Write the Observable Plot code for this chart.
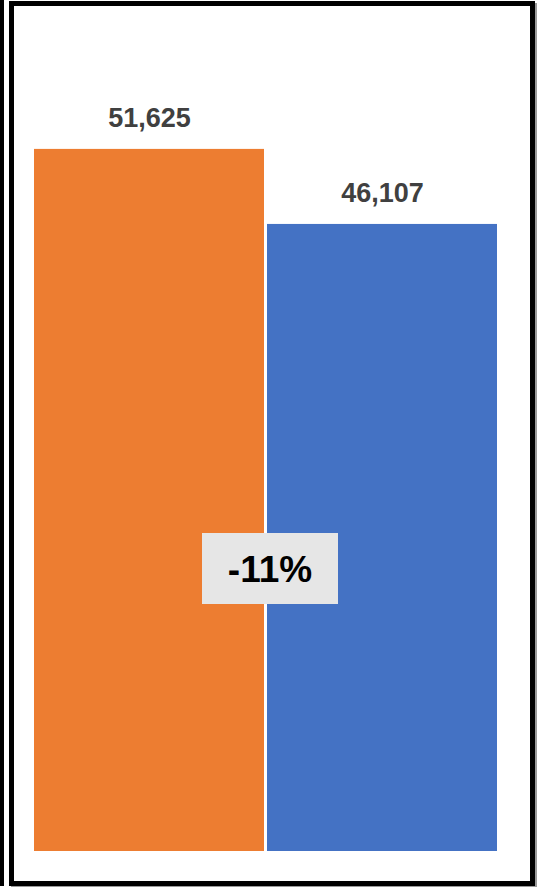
<!DOCTYPE html>
<html>
<head>
<meta charset="utf-8">
<script src="https://cdn.jsdelivr.net/npm/d3@7"></script>
<script src="https://cdn.jsdelivr.net/npm/@observablehq/plot@0.6"></script>
<style>
  html, body { margin: 0; padding: 0; background: #fff; }
  #wrap { position: relative; width: 538px; height: 887px; overflow: hidden; }
  #wrap svg { position: absolute; left: 0; top: 0; }
  .frame { position: absolute; left: 9px; top: 1px; width: 526px; height: 885px; box-sizing: border-box; border: 5px solid #000; box-shadow: 2px 2px 0 #9a9a9a; pointer-events: none; }
  .outer { position: absolute; left: 0; top: 0; width: 4px; height: 886px; background: #000; pointer-events: none; }
</style>
</head>
<body>
<div id="wrap"></div>
<script>
// Data
const categories = ["Before", "After"];
const values = [51625, 46107];
const colors = ["#ED7D31", "#4472C4"];

const data = categories.map((c, i) => ({category: c, value: values[i], color: colors[i]}));
const change = (values[1] - values[0]) / values[0];
const changeLabel = d3.format(".0%")(change).replace("−", "-");

const boxSymbol = {
  draw(context) {
    context.moveTo(-68, -35.5);
    context.lineTo(68, -35.5);
    context.lineTo(68, 35.5);
    context.lineTo(-68, 35.5);
    context.closePath();
  }
};

const annotation = [{y: 20800, label: changeLabel}];

// Re-center an annotation near the boundary between the two bars
function betweenBars(selector, shift) {
  return function(index, scales, values, dimensions, context, next) {
    const g = next(index, scales, values, dimensions, context);
    const xb = scales.x(categories[1]) + shift;
    const gt = /translate\(([^,]+),([^)]+)\)/.exec(g.getAttribute("transform") || "");
    const gx = gt ? +gt[1] : 0;
    d3.select(g).selectAll(selector).each(function() {
      const el = d3.select(this);
      const t = el.attr("transform") || "";
      const m = /translate\(([^,]+),([^)]+)\)/.exec(t);
      const ty = m ? m[2] : 0;
      el.attr("x", null).attr("transform", `translate(${xb - gx},${ty})`);
    });
    return g;
  };
}

const chart = Plot.plot({
  width: 538,
  height: 887,
  marginLeft: 34,
  marginRight: 41,
  marginTop: 35,
  marginBottom: 36,
  style: {background: "transparent", fontFamily: "'Liberation Sans', Arial, sans-serif"},
  x: {type: "band", domain: categories, paddingInner: 0.013, paddingOuter: 0, axis: null},
  y: {domain: [0, 60000], axis: null},
  marks: [
    Plot.barY(data, {x: "category", y: "value", fill: "color"}),
    Plot.text(data, {
      x: "category", y: "value", text: d => d3.format(",")(d.value),
      lineAnchor: "bottom", dy: -22, fontSize: 27, fontWeight: "bold", fill: "#404040"
    }),
    Plot.dot(annotation, {
      x: () => categories[1], y: "y", symbol: boxSymbol, r: 10,
      fill: "#E6E6E6", stroke: "none",
      render: betweenBars("path", 3)
    }),
    Plot.text(annotation, {
      x: () => categories[1], y: "y", text: "label",
      fontSize: 37, fontWeight: "bold", fill: "#000", dy: 2,
      render: betweenBars("text", 3)
    })
  ]
});

const wrap = document.getElementById("wrap");
wrap.appendChild(chart);
const outer = document.createElement("div"); outer.className = "outer"; wrap.appendChild(outer);
const frame = document.createElement("div"); frame.className = "frame"; wrap.appendChild(frame);
</script>
</body>
</html>
